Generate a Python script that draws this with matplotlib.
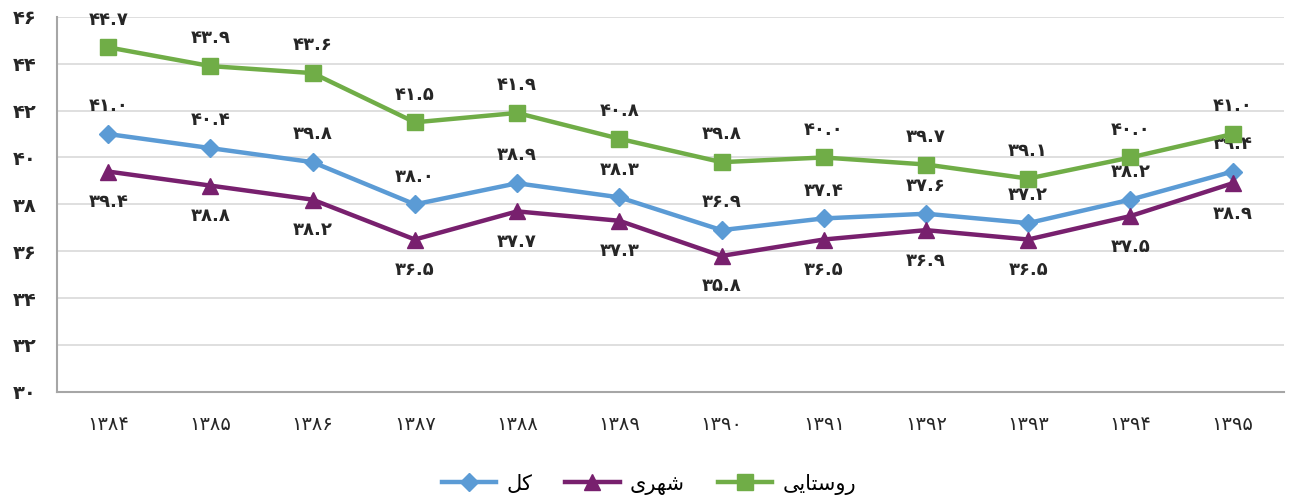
import numpy as np
import matplotlib.pyplot as plt

PERSIAN_DIGITS = str.maketrans('0123456789', '۰۱۲۳۴۵۶۷۸۹')


def fa(text):
    return str(text).translate(PERSIAN_DIGITS)


years = [1384, 1385, 1386, 1387, 1388, 1389, 1390, 1391, 1392, 1393, 1394, 1395]
total = [41.0, 40.4, 39.8, 38.0, 38.9, 38.3, 36.9, 37.4, 37.6, 37.2, 38.2, 39.4]
urban = [39.4, 38.8, 38.2, 36.5, 37.7, 37.3, 35.8, 36.5, 36.9, 36.5, 37.5, 38.9]
rural = [44.7, 43.9, 43.6, 41.5, 41.9, 40.8, 39.8, 40.0, 39.7, 39.1, 40.0, 41.0]

# legend names, written in shaped presentation forms (visual order) since
# matplotlib does no arabic shaping on its own
name_total = '\uFEDE\uFB90'                                     # کل
name_urban = '\uFBFC\uFEAE\uFEEC\uFEB7'                         # شهری
name_rural = '\uFBFD\uFBFE\uFE8E\uFE98\uFEB3\uFEED\uFEAD'       # روستایی

plt.rcParams['font.family'] = ['DejaVu Sans']

fig = plt.figure(figsize=(12.98, 4.96), dpi=100)
ax = fig.add_axes([0.044, 0.21, 0.945, 0.756])

x = np.arange(len(years))
series = [
    (total, name_total, '#5B9BD5', 'D', 9, 20),
    (urban, name_urban, '#78206E', '^', 11, -22),
    (rural, name_rural, '#70AD47', 's', 12, 20),
]
for vals, name, color, marker, ms, dy in series:
    ax.plot(x, vals, color=color, lw=3.2, marker=marker, markersize=ms,
            label=name, zorder=3)
    for xi, v in zip(x, vals):
        ax.annotate(fa(f'{v:.1f}'), (xi, v), xytext=(0, dy), textcoords='offset points',
                    ha='center', va='center', fontsize=13, color='#262626',
                    fontweight='bold')

ax.set_xlim(-0.5, len(years) - 0.5)
ax.set_ylim(30, 46)
ax.set_yticks(range(30, 47, 2))
ax.set_yticklabels([fa(v) for v in range(30, 47, 2)], fontsize=14,
                   fontweight='bold', color='#262626')
ax.set_xticks(x)
ax.set_xticklabels([fa(y) for y in years], fontsize=14, color='#262626')
ax.tick_params(axis='both', length=0)
ax.tick_params(axis='y', pad=15)
ax.tick_params(axis='x', pad=17)
ax.yaxis.grid(True, color='#D9D9D9', lw=1.2)
ax.set_axisbelow(True)
for side in ['top', 'right']:
    ax.spines[side].set_visible(False)
for side in ['left', 'bottom']:
    ax.spines[side].set_color('#A6A6A6')
    ax.spines[side].set_linewidth(1.5)

fig.legend(loc='lower center', bbox_to_anchor=(0.5, -0.035), ncol=3, frameon=False,
           fontsize=15, handlelength=2.6, handletextpad=0.5, columnspacing=1.6)

fig.savefig('out.png', dpi=100)
